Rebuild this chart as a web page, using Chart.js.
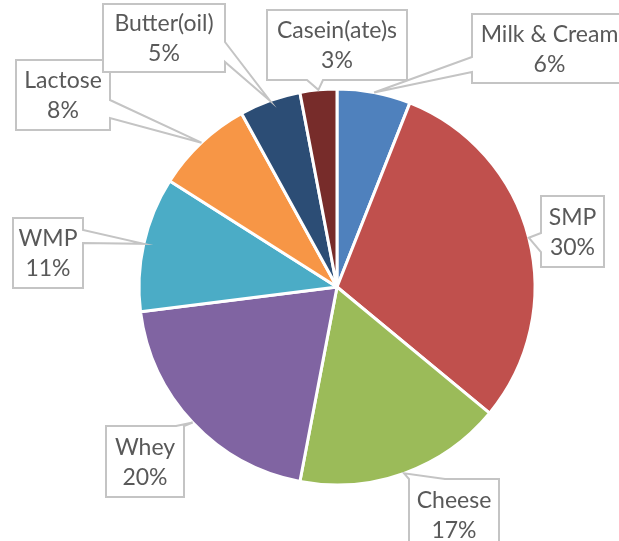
<!DOCTYPE html>
<html>
<head>
<meta charset="utf-8">
<script src="https://cdn.jsdelivr.net/npm/chart.js@4/dist/chart.umd.min.js"></script>
<style>
  html, body { margin: 0; background: #fff; }
  #chart { display: block; }
</style>
</head>
<body>
<canvas id="chart" width="619" height="541"></canvas>
<script>
const products = ["Milk & Cream", "SMP", "Cheese", "Whey", "WMP", "Lactose", "Butter(oil)", "Casein(ate)s"];
const shares = [6, 30, 17, 20, 11, 8, 5, 3];
const colors = ["#4F81BD", "#C0504D", "#9BBB59", "#8064A2", "#4BACC6", "#F79646", "#2C4D75", "#772C2A"];

// callout boxes, one per slice: rect, side the pointer leaves from, pointer base a..b on that side
const callouts = [
  { x: 472, y: 14, w: 155, h: 69, side: "left", a: 57, b: 72 },
  { x: 541, y: 196, w: 63, h: 71, side: "left", a: 233, b: 252 },
  { x: 409, y: 479, w: 90, h: 72, side: "top", a: 409, b: 445 },
  { x: 106, y: 426, w: 78, h: 71, side: "top", a: 176, b: 184 },
  { x: 13, y: 218, w: 70, h: 70, side: "right", a: 230, b: 243 },
  { x: 16, y: 60, w: 94, h: 70, side: "right", a: 100, b: 118 },
  { x: 103, y: 4, w: 122, h: 68, side: "right", a: 42, b: 62 },
  { x: 267, y: 10, w: 140, h: 70, side: "bottom", a: 307, b: 323 }
];

function calloutPath(ctx, c, tx, ty) {
  const { x, y, w, h, a, b } = c;
  ctx.beginPath();
  ctx.moveTo(x, y);
  if (c.side === "top") {
    ctx.lineTo(a, y); ctx.lineTo(tx, ty); ctx.lineTo(b, y);
  }
  ctx.lineTo(x + w, y);
  if (c.side === "right") {
    ctx.lineTo(x + w, a); ctx.lineTo(tx, ty); ctx.lineTo(x + w, b);
  }
  ctx.lineTo(x + w, y + h);
  if (c.side === "bottom") {
    ctx.lineTo(b, y + h); ctx.lineTo(tx, ty); ctx.lineTo(a, y + h);
  }
  ctx.lineTo(x, y + h);
  if (c.side === "left") {
    ctx.lineTo(x, b); ctx.lineTo(tx, ty); ctx.lineTo(x, a);
  }
  ctx.closePath();
}

const calloutLabels = {
  id: "calloutLabels",
  afterDatasetsDraw(chart) {
    const ctx = chart.ctx;
    const arcs = chart.getDatasetMeta(0).data;
    const total = shares.reduce((s, v) => s + v, 0);
    ctx.save();
    arcs.forEach((arc, i) => {
      const p = arc.getProps(["x", "y", "startAngle", "endAngle", "outerRadius"], true);
      const mid = (p.startAngle + p.endAngle) / 2;
      const tx = p.x + Math.cos(mid) * p.outerRadius;
      const ty = p.y + Math.sin(mid) * p.outerRadius;
      const c = callouts[i];

      calloutPath(ctx, c, tx, ty);
      ctx.fillStyle = "#fff";
      ctx.fill();
      ctx.lineWidth = 2;
      ctx.strokeStyle = "#C4C4C4";
      ctx.lineJoin = "miter";
      ctx.stroke();

      const cx = c.x + c.w / 2;
      const cy = c.y + c.h / 2;
      ctx.fillStyle = "#595959";
      ctx.font = "23px Lato";
      ctx.textAlign = "center";
      ctx.textBaseline = "middle";
      ctx.fillText(products[i], cx, cy - 14);
      ctx.fillText(Math.round(shares[i] / total * 100) + "%", cx, cy + 16);
    });
    ctx.restore();
  }
};

new Chart(document.getElementById("chart"), {
  type: "pie",
  data: {
    labels: products,
    datasets: [{
      data: shares,
      backgroundColor: colors,
      borderColor: "#fff",
      borderWidth: 3
    }]
  },
  options: {
    responsive: false,
    animation: false,
    radius: 198,
    layout: { padding: { left: 137, right: 82, top: 87, bottom: 54 } },
    plugins: {
      legend: { display: false },
      tooltip: { enabled: false }
    }
  },
  plugins: [calloutLabels]
});
</script>
</body>
</html>
